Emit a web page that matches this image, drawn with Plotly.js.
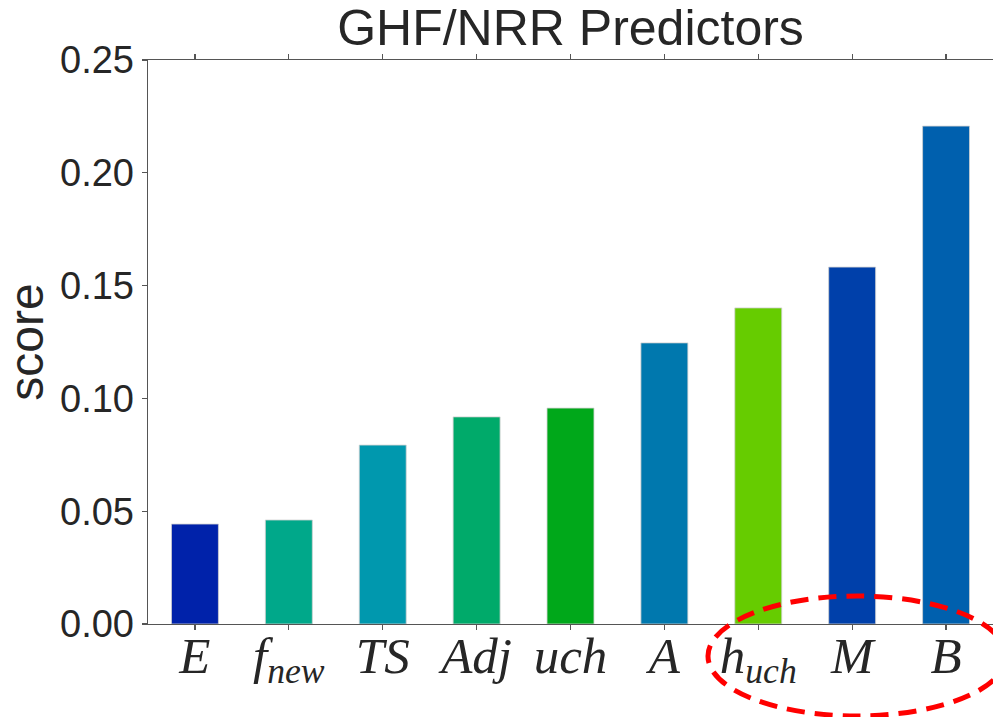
<!DOCTYPE html>
<html>
<head>
<meta charset="utf-8">
<script src="https://cdn.plot.ly/plotly-3.0.1.min.js"></script>
<style>html,body{margin:0;padding:0;background:#fff;}#chart{width:993px;height:717px;}</style>
</head>
<body>
<div id="chart"></div>
<script>
const categories = ["E", "f<sub>new</sub>", "TS", "Adj", "uch", "A", "h<sub>uch</sub>", "M", "B"];
const scores = [0.0443, 0.0461, 0.0793, 0.0918, 0.0957, 0.1246, 0.1401, 0.1582, 0.2207];
const barColors = ["#0022aa", "#00a88a", "#0098ae", "#00aa6a", "#00a81a", "#0078ae", "#66cc00", "#0040aa", "#0060ae"];
const yTicks = [0, 0.05, 0.10, 0.15, 0.20, 0.25];
const yTickText = ["0.00", "0.05", "0.10", "0.15", "0.20", "0.25"];

const trace = {
  type: "bar",
  x: categories.map((c, i) => i),
  y: scores,
  width: 0.5,
  marker: {color: barColors, line: {color: "#d0d0d0", width: 0.8}},
  hoverinfo: "skip"
};

const layout = {
  width: 993, height: 717,
  margin: {l: 148, r: 0, t: 60, b: 93},
  paper_bgcolor: "#fff", plot_bgcolor: "#fff",
  showlegend: false,
  font: {family: "Liberation Sans, Arial, sans-serif", color: "#262626"},
  title: {
    text: "GHF/NRR Predictors",
    font: {size: 50, color: "#262626"},
    x: 0.5, xref: "paper", xanchor: "center",
    y: 1, yref: "paper", yanchor: "bottom",
    pad: {b: 15}
  },
  xaxis: {
    range: [-0.5, 8.5],
    tickmode: "array",
    tickvals: categories.map((c, i) => i),
    ticktext: categories.map(c => "<i>" + c + "</i>"),
    tickfont: {family: "Liberation Serif, Times New Roman, serif", size: 51, color: "#262626"},
    ticklabelstandoff: -19,
    ticks: "outside", ticklen: 5, tickwidth: 1.2, tickcolor: "#555",
    showline: true, linecolor: "#555", linewidth: 1.4, mirror: "ticks",
    showgrid: false, zeroline: false, fixedrange: true
  },
  yaxis: {
    range: [0, 0.25],
    tickmode: "array",
    tickvals: yTicks, ticktext: yTickText,
    tickfont: {size: 38, color: "#262626"},
    ticks: "outside", ticklen: 5, tickwidth: 1.2, tickcolor: "#555",
    showline: true, linecolor: "#555", linewidth: 1.4, mirror: "ticks",
    showgrid: false, zeroline: false, fixedrange: true,
    title: {text: "score", font: {size: 48, color: "#262626"}, standoff: 8}
  },
  shapes: [{
    type: "circle", xref: "paper", yref: "paper",
    x0: 0.6627, x1: 1.0154, y0: -0.163, y1: 0.0496,
    line: {color: "#ff0000", width: 5, dash: "18px,10px"},
    layer: "above"
  }]
};

Plotly.newPlot("chart", [trace], layout, {staticPlot: true, displayModeBar: false});
</script>
</body>
</html>
